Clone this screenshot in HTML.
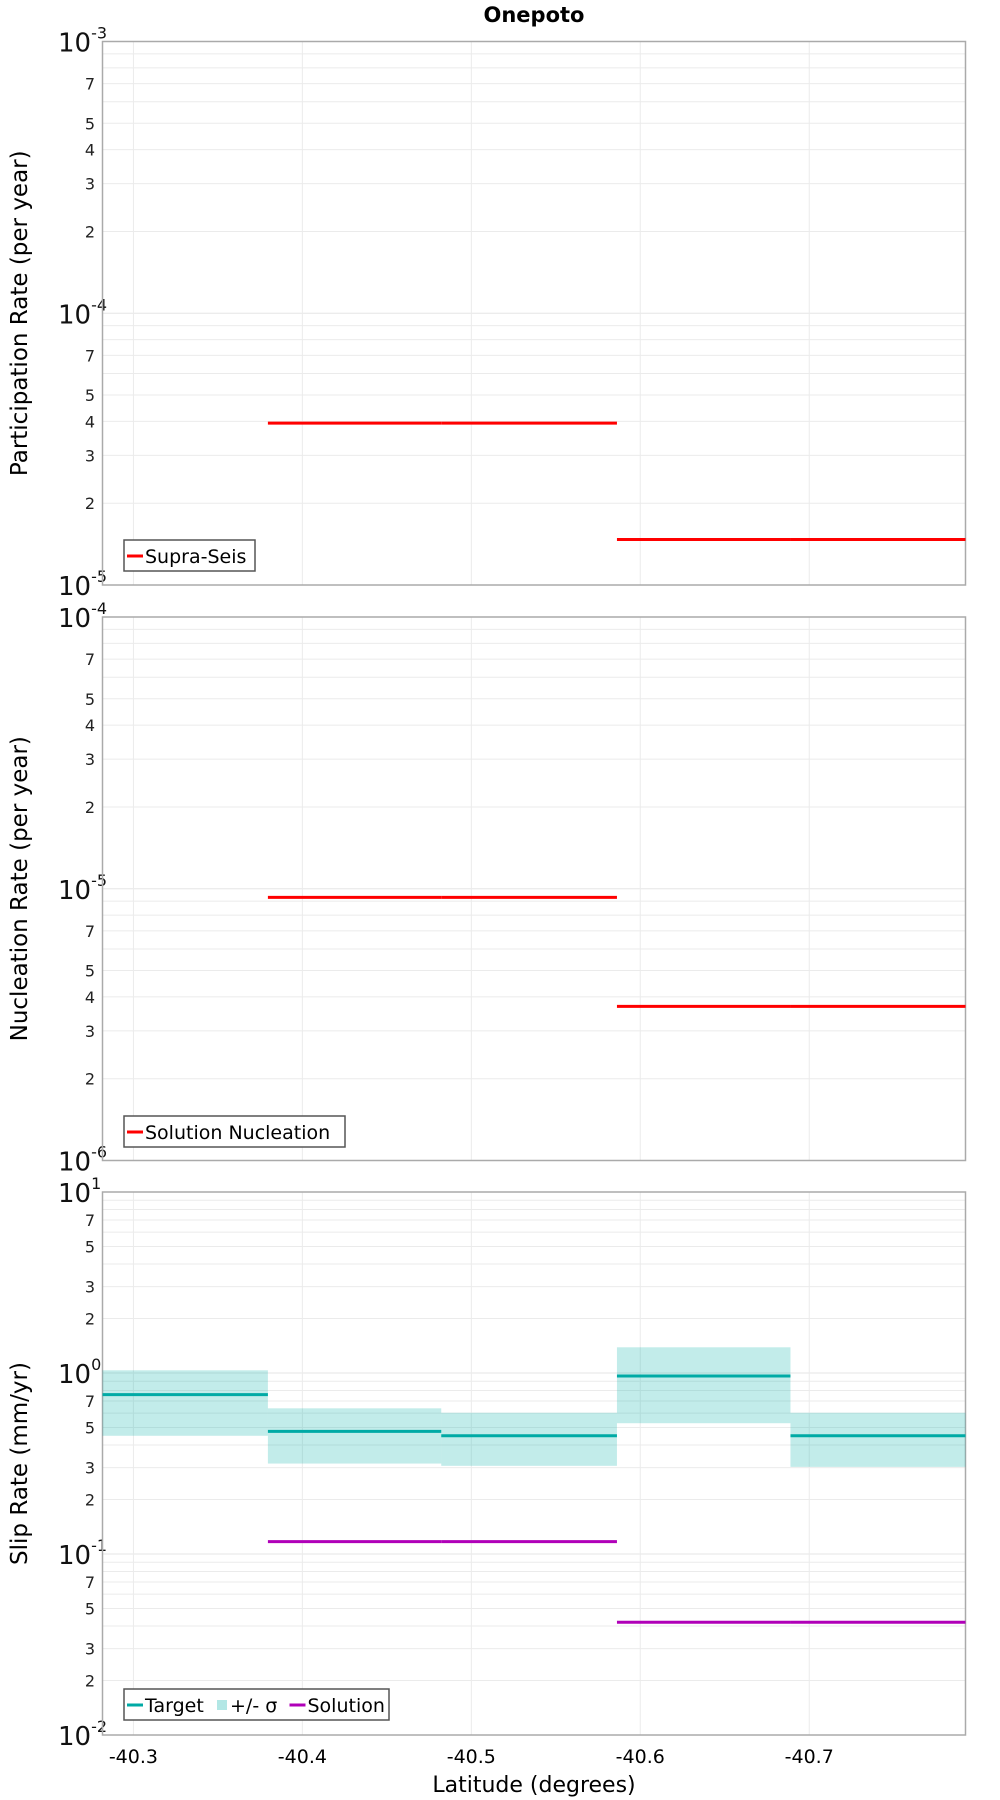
<!DOCTYPE html>
<html><head><meta charset="utf-8"><style>
html,body{margin:0;padding:0;background:#fff;}
svg{display:block;font-family:"DejaVu Sans","Liberation Sans",sans-serif;}
</style></head><body>
<svg id="chart" width="1000" height="1800" viewBox="0 0 1000 1800" xmlns="http://www.w3.org/2000/svg">
<text x="534" y="22" text-anchor="middle" font-weight="bold" font-size="21">Onepoto</text>
<text x="534" y="1792" text-anchor="middle" font-size="22">Latitude (degrees)</text>
</svg>
<script>
// ---- data ----
const segEdges = [-40.276, -40.3796, -40.4822, -40.5862, -40.6889, -40.7925];
const xTicks = [-40.3, -40.4, -40.5, -40.6, -40.7];
const xTickLabels = ["-40.3", "-40.4", "-40.5", "-40.6", "-40.7"];
const partSupra = [null, 3.94e-5, 3.94e-5, 1.47e-5, 1.47e-5];
const nuclSolution = [null, 9.3e-6, 9.3e-6, 3.69e-6, 3.69e-6];
const slipTarget = [0.76, 0.476, 0.45, 0.962, 0.45];
const slipUpper = [1.035, 0.638, 0.603, 1.387, 0.603];
const slipLower = [0.45, 0.316, 0.307, 0.528, 0.303];
const slipSolution = [null, 0.117, 0.117, 0.042, 0.042];

const NS = "http://www.w3.org/2000/svg";
const svg = document.getElementById('chart');
const L = 102.5, R = 965.5, XMIN = -40.2817, XMAX = -40.7925;
function xs(v){ return L + (v - XMIN) / (XMAX - XMIN) * (R - L); }
function el(tag, attrs, parent){
  const e = document.createElementNS(NS, tag);
  for (const k in attrs) e.setAttribute(k, attrs[k]);
  (parent || svg).appendChild(e);
  return e;
}
function clampX(v){ return Math.max(L, Math.min(R, xs(v))); }

function panel(name, top, bottom, dTop, dBot, yTitle, minorLabels){
  const g = el('g', {});
  
  
  const ys = v => top + (dTop - Math.log10(v)) / (dTop - dBot) * (bottom - top);
  for (let d = dBot; d < dTop; d++) {
    for (let m = 2; m <= 9; m++) {
      const y = ys(m * Math.pow(10, d));
      const ln = el('line', {x1: L, x2: R, y1: y, y2: y, stroke: '#ebebeb', 'stroke-width': 1}, g);
      
      
      if (minorLabels.includes(m)) {
        const t = el('text', {x: 95, y: y + 6, 'text-anchor': 'end', 'font-size': 16, fill: '#222'}, g);
        t.textContent = String(m);
        
        
      }
    }
  }
  for (let d = dBot; d <= dTop; d++) {
    const y = ys(Math.pow(10, d));
    if (d > dBot && d < dTop) {
      const ln = el('line', {x1: L, x2: R, y1: y, y2: y, stroke: '#e6e6e6', 'stroke-width': 1}, g);
      
      
    }
    const t = el('text', {x: 58, y: y + 10, 'font-size': 26, fill: '#111'}, g);
    
    
    const a = el('tspan', {}, t); a.textContent = '10';
    const b = el('tspan', {dy: -13, 'font-size': 16}, t); b.textContent = String(d);
  }
  for (const v of xTicks) {
    const ln = el('line', {x1: xs(v), x2: xs(v), y1: top, y2: bottom, stroke: '#ebebeb', 'stroke-width': 1}, g);
    
    
  }
  const fr = el('rect', {x: L, y: top, width: R - L, height: bottom - top, fill: 'none', stroke: '#aaa', 'stroke-width': 1.5}, g);
  
  
  const cy = (top + bottom) / 2;
  const yt = el('text', {x: 0, y: 0, transform: `translate(27,${cy}) rotate(-90)`, 'text-anchor': 'middle', 'font-size': 23}, g);
  yt.textContent = yTitle;
  
  
  return {g, ys};
}
function steps(p, vals, color, nm){
  vals.forEach((v, i) => {
    if (v == null) return;
    const y = p.ys(v);
    const ln = el('line', {x1: clampX(segEdges[i]), x2: clampX(segEdges[i+1]), y1: y, y2: y, stroke: color, 'stroke-width': 3}, p.g);
    
    
  });
}
function legend(p, x, y, w, items){
  const lg = el('g', {}, p.g);
  
  
  el('rect', {x, y, width: w, height: 31, fill: '#fff', stroke: '#555', 'stroke-width': 1.5}, lg);
  let cx = x + 3;
  items.forEach(it => {
    if (it.box) el('rect', {x: cx + 1, y: y + 11, width: 10, height: 10, fill: it.color, opacity: 0.3}, lg);
    else el('line', {x1: cx, x2: cx + 16, y1: y + 16, y2: y + 16, stroke: it.color, 'stroke-width': 3}, lg);
    const t = el('text', {x: cx + (it.box ? 14 : 18), y: y + 23, 'font-size': 19}, lg);
    t.textContent = it.label;
    
    
    cx += (it.box ? 14 : 18) + it.label.length * 11.5 + 2;
  });
}

const p1 = panel('participation', 41.5, 585, -3, -5, 'Participation Rate (per year)', [2,3,4,5,7]);
steps(p1, partSupra, '#ff0000', 'supra-seis-line');
legend(p1, 124, 540, 131, [{color: '#ff0000', label: 'Supra-Seis'}]);

const p2 = panel('nucleation', 617, 1160.5, -4, -6, 'Nucleation Rate (per year)', [2,3,4,5,7]);
steps(p2, nuclSolution, '#ff0000', 'solution-nucleation-line');
legend(p2, 124, 1116, 221, [{color: '#ff0000', label: 'Solution Nucleation'}]);

const p3 = panel('slip', 1192, 1735, 1, -2, 'Slip Rate (mm/yr)', [2,3,5,7]);
slipUpper.forEach((u, i) => {
  const x1 = clampX(segEdges[i]), x2 = clampX(segEdges[i+1]);
  const r = el('rect', {x: x1, y: p3.ys(u), width: x2 - x1, height: p3.ys(slipLower[i]) - p3.ys(u), fill: '#00b0a8', opacity: 0.24}, p3.g);
  
  
});
steps(p3, slipTarget, '#00aaa5', 'target-line');
steps(p3, slipSolution, '#b000b8', 'solution-line');
legend(p3, 124, 1689, 265, [{color: '#00aaa5', label: 'Target'}, {color: '#00b0a8', label: '+/- σ', box: true}, {color: '#b000b8', label: 'Solution'}]);

xTicks.forEach((v, i) => {
  const t = el('text', {x: xs(v), y: 1763, 'text-anchor': 'middle', 'font-size': 19});
  t.textContent = xTickLabels[i];
  
  
});
</script>
</body></html>
